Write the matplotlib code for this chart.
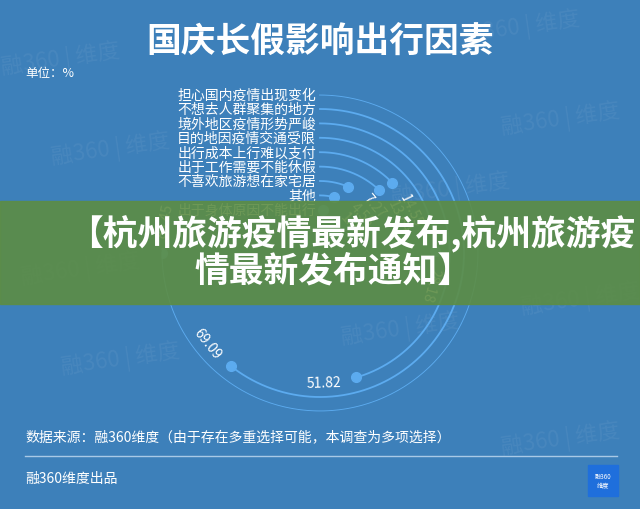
import numpy as np
import matplotlib.pyplot as plt
from matplotlib.patches import Rectangle

plt.rcParams['font.family'] = ['Noto Sans CJK SC', 'DejaVu Sans']

# data, outer ring first
categories = ['担心国内疫情出现变化', '不想去人群聚集的地方', '境外地区疫情形势严峻',
              '目的地因疫情交通受限', '出行成本上行难以支付', '出于工作需要不能休假',
              '不喜欢旅游想在家宅居', '其他', '出于身体原因不能出行']
values = [85.45, 69.09, 51.82, 28.18, 14.55, 13.64, 7.27, 4.55, 1.27]

title = '国庆长假影响出行因素'
unit = '单位：%'
source = '数据来源：融360维度（由于存在多重选择可能，本调查为多项选择）'
footer = '融360维度出品'
banner = ['【杭州旅游疫情最新发布,杭州旅游疫', '情最新发布通知】']

BG = '#3d80ba'
RING = '#5cabef'
W, H = 640, 510

fig = plt.figure(figsize=(6.4, 5.1), dpi=100, facecolor=BG)

# background / text layer in pixel coords
ax = fig.add_axes([0, 0, 1, 1], zorder=0)
ax.set_xlim(0, W)
ax.set_ylim(H, 0)
ax.axis('off')

ax.text(320, 42, title, color='white', fontsize=25, fontweight='bold',
        ha='center', va='center')
ax.text(25, 73, unit, color='white', fontsize=9, va='center')
ax.text(25, 437, source, color='white', fontsize=10, va='center')
ax.plot([25, 617], [457, 457], color='#a9c9e6', lw=1)
ax.text(25, 479, footer, color='white', fontsize=10, va='center')
ax.add_patch(Rectangle((588, 466), 30, 31, color='#1f6fdc'))
ax.text(603, 481.5, '融360\n维度', color='white', fontsize=4.5,
        ha='center', va='center', linespacing=1.3)

# faint watermarks
for wx, wy in [(60, 60), (520, 28), (560, 120), (110, 150), (450, 190),
               (80, 270), (400, 330), (580, 300), (560, 440), (120, 360)]:
    ax.text(wx, wy, '融360 | 维度', color='white', alpha=0.06, fontsize=16,
            ha='center', va='center', rotation=8)

# radial bars
R_PX = 158.4
RMAX = 11
cx, cy = 320, 254
px_r = R_PX / RMAX
pax = fig.add_axes([(cx - R_PX) / W, (H - cy - R_PX) / H, 2 * R_PX / W, 2 * R_PX / H],
                   projection='polar', zorder=1)
pax.set_theta_zero_location('N')
pax.set_theta_direction(-1)
pax.set_rlim(0, RMAX)
pax.axis('off')

vmax = max(values)
for i, (cat, v) in enumerate(zip(categories, values)):
    r = RMAX - i
    end = v / vmax * 1.5 * np.pi
    th = np.linspace(0, end, 300)
    pax.plot(th, np.full_like(th, r), color=RING, lw=1.3)
    pax.plot([end], [r], 'o', color=RING, markersize=7)
    pax.annotate(cat, xy=(0, r), xytext=(-4, 0), textcoords='offset pixels',
                 color='white', fontsize=10, ha='right', va='center')
    # value label just past the end dot, along the ring
    lab_th = end + 33 / (r * px_r)
    deg = np.degrees(lab_th)
    rot = (-deg + 180) % 360 - 180
    if rot > 90:
        rot -= 180
    if rot < -120:
        rot += 180
    pax.text(lab_th, r, f'{v:.2f}', color='white', fontsize=10, rotation=rot,
             rotation_mode='anchor', ha='center', va='center')

# overlay banner
tax = fig.add_axes([0, 0, 1, 1], zorder=5)
tax.set_xlim(0, W)
tax.set_ylim(H, 0)
tax.axis('off')
tax.patch.set_alpha(0)
tax.add_patch(Rectangle((0, 202), W, 103, color='#5d8d44', alpha=0.9))
tax.text(352, 233, banner[0], color='white', fontsize=25, fontweight='bold',
         ha='center', va='center')
tax.text(333, 271, banner[1], color='white', fontsize=25, fontweight='bold',
         ha='center', va='center')

fig.savefig('out.png', dpi=100, facecolor=BG)
